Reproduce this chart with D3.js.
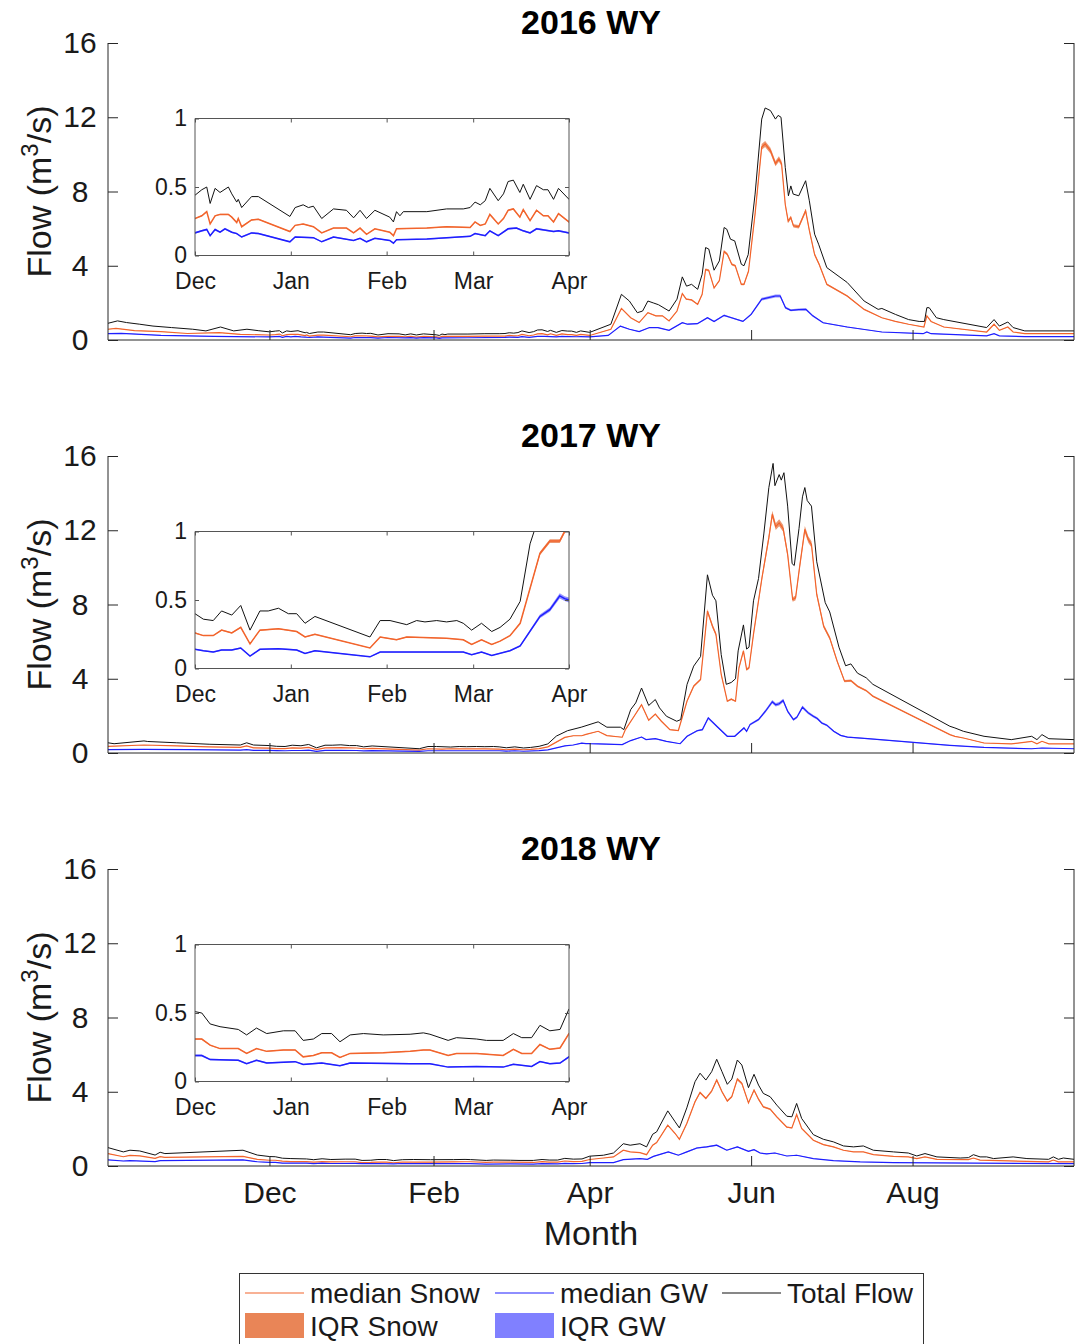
<!DOCTYPE html>
<html>
<head>
<meta charset="utf-8">
<script src="https://cdn.jsdelivr.net/npm/d3@7"></script>
<style>
  html, body { margin: 0; padding: 0; background: #fff; }
  svg { display: block; font-family: "Liberation Sans", Arial, Helvetica, sans-serif; }
</style>
</head>
<body>
<svg id="chart" width="1075" height="1344"></svg>
<script>
// Daily streamflow components by water year, as [day of water year (0 = Oct 1), flow in m3/s]

const total2016 = [[0,0.90],[3.6,1.03],[7,0.94],[12,0.85],[17,0.75],[24,0.67],[32,0.58],[37,0.49],[42.5,0.70],[47.5,0.49],[52.5,0.58],[57,0.50],
  [61,0.44],[63.2,0.48],[64.8,0.50],[65.9,0.38],[67.5,0.49],[69.1,0.46],[71.8,0.50],[72.9,0.45],[74.5,0.39],[75,0.41],[76.1,0.35],[79.3,0.43],[81.5,0.43],[91.7,0.285],[93.4,0.35],[96,0.37],[97.7,0.35],[99.3,0.36],[102,0.27],[105.8,0.34],[110,0.33],[112.3,0.275],[114.4,0.33],[116.5,0.27],[119.2,0.33],[124,0.28],[125.2,0.245],[126.2,0.32],[127.3,0.29],[128.4,0.32],[136,0.32],[142.4,0.34],[147.8,0.34],[150,0.35],[151.6,0.39],[153.3,0.37],[154.9,0.40],[156.4,0.49],[159.1,0.40],[160.8,0.45],[162.3,0.54],[164,0.55],[166.1,0.46],[167.2,0.52],[169.4,0.41],[171.5,0.51],[173.7,0.48],[175.2,0.48],[177,0.41],[178.6,0.49],[182,0.41],
  [190,0.85],[194,2.46],[197,2.1],[200,1.47],[202,1.56],[204,2.1],[206,2.0],[208,1.9],[212,1.56],[215,2.2],[217,3.4],[218.6,2.9],[220.5,3.0],[222.8,2.73],[224.5,3.54],[225.8,4.98],[227,4.9],[229,3.76],[231,4.26],[232.8,6.06],[233.8,5.97],[235.2,5.43],[236.8,5.34],[239.3,4.08],[240.3,4.0],[241.9,4.6],[244.5,7.86],[247,11.9],[248.3,12.5],[250.3,12.36],[252.2,11.9],[253.2,12.1],[254.3,12.0],[255.9,9.3],[257.1,7.77],[258,8.3],[258.9,7.86],[261,7.77],[263.6,8.58],[265,7.5],[267,5.7],[268.5,5.16],[271.6,3.9],[279.3,3.1],[285.7,2.1],[291,1.65],[292.4,1.7],[297.5,1.38],[302.5,1.1],[306.5,1.0],[308.5,1.0],[309.4,1.74],[310.3,1.74],[313,1.2],[315.8,1.1],[332,0.67],[334.8,1.1],[336.8,0.75],[340,0.97],[342,0.67],[346.4,0.49],[365,0.49]];

const snow2016 = [[0,0.58],[3,0.63],[10,0.50],[20,0.45],[30,0.35],[42,0.40],[50,0.30],
  [61,0.27],[63.2,0.29],[64.8,0.32],[65.9,0.23],[67.5,0.29],[69.1,0.30],[71.8,0.30],[72.9,0.28],[74.5,0.24],[75,0.27],[76.1,0.21],[79.3,0.26],[81.5,0.265],[91.7,0.175],[93.4,0.22],[96,0.23],[99.3,0.21],[102,0.165],[105.8,0.20],[110,0.20],[112.3,0.165],[114.4,0.20],[116.5,0.155],[119.2,0.195],[124,0.17],[125.2,0.145],[126.2,0.195],[136,0.20],[142.4,0.21],[150,0.205],[151.6,0.245],[153.3,0.22],[154.9,0.23],[156.4,0.30],[159.1,0.23],[160.8,0.27],[162.3,0.33],[164,0.34],[166.1,0.28],[167.2,0.335],[169.4,0.255],[171.5,0.33],[173.7,0.29],[175.2,0.29],[177,0.245],[178.6,0.305],[182,0.245],
  [190,0.58],[194,1.7],[197.5,1.2],[200.7,0.94],[204,1.47],[207,1.3],[209.5,1.3],[212,1.03],[215,1.56],[217,2.5],[218.5,2.2],[220.5,2.16],[222.8,1.92],[224.5,2.46],[225.8,3.8],[227,3.75],[229,2.8],[231,3.2],[232.8,4.77],[234,4.62],[235.7,4.08],[237,4.0],[239.3,3.0],[240.3,3.0],[242,3.7],[244.5,6.8],[247,10.4],[248.3,10.56],[250.3,10.2],[252.2,9.5],[253.5,9.75],[254.5,9.5],[255.9,7.3],[257,6.4],[258,6.6],[259,6.15],[261,6.1],[263.6,6.96],[265,5.9],[267,4.6],[268.7,4.08],[271.6,3.0],[279.3,2.37],[285.7,1.65],[292.4,1.2],[297.5,1.0],[302.5,0.85],[308.3,0.7],[309.4,1.3],[311,1.0],[315.8,0.7],[332,0.43],[334.8,0.85],[336.8,0.52],[340,0.7],[342,0.43],[346.4,0.34],[365,0.34]];

const gw2016 = [[0,0.34],[5,0.36],[20,0.25],[40,0.20],
  [61,0.165],[63.2,0.18],[64.8,0.19],[65.9,0.145],[67.5,0.19],[69.1,0.17],[70.7,0.195],[72.9,0.17],[74.5,0.16],[76.1,0.135],[79.3,0.165],[81.5,0.16],[91.7,0.10],[93.4,0.135],[99.3,0.13],[102,0.10],[105.8,0.135],[112.3,0.11],[114.4,0.125],[116.5,0.10],[119.2,0.125],[124,0.11],[125.2,0.09],[126.2,0.115],[136,0.12],[150,0.14],[151.6,0.16],[154.9,0.145],[156.4,0.18],[159.1,0.145],[162.3,0.195],[165,0.20],[167.2,0.18],[169.4,0.165],[171.5,0.195],[177,0.175],[178.6,0.18],[182,0.165],
  [189,0.25],[193.6,0.75],[197,0.58],[200.7,0.45],[204.6,0.67],[207.8,0.67],[212,0.52],[217,0.93],[219,0.85],[222.7,0.88],[226.5,1.2],[229,1.0],[232.8,1.33],[234.7,1.24],[239.9,1.0],[243,1.38],[247,2.2],[252.2,2.37],[254,2.37],[256,1.74],[258,1.6],[261,1.64],[263.7,1.65],[266.3,1.3],[270.2,0.93],[279.3,0.7],[292.4,0.43],[308,0.34],[309.4,0.43],[311,0.34],[332,0.22],[334.8,0.34],[336.8,0.22],[346.4,0.18],[365,0.18]];

const total2017 = [[0,0.55],[2.3,0.50],[13.6,0.65],[15,0.62],[26,0.55],[38.5,0.47],[50,0.43],[52.4,0.55],[55,0.43],
  [61,0.40],[63.7,0.36],[66.9,0.35],[69.6,0.42],[72.9,0.39],[75.8,0.46],[78.8,0.28],[82,0.42],[84.7,0.42],[88,0.44],[91.2,0.40],[93.9,0.40],[96.6,0.33],[99.8,0.38],[117.6,0.23],[120.9,0.35],[124.1,0.35],[129.5,0.32],[132.7,0.35],[135.4,0.34],[139.2,0.35],[142.4,0.34],[145.7,0.35],[147.8,0.33],[150.5,0.28],[153.7,0.33],[157,0.27],[159.7,0.30],[162.9,0.36],[166.2,0.49],[169.4,0.91],
  [173.6,1.2],[178.8,1.39],[185.2,1.68],[188.5,1.39],[193.6,1.39],[194.9,1.26],[197.5,2.34],[199.4,2.7],[201.6,3.5],[204.3,2.56],[206.8,2.88],[208.4,2.43],[211,1.98],[214.9,1.71],[216.4,1.8],[218.8,3.7],[221.3,4.68],[223.9,5.2],[226.5,9.6],[228.4,8.5],[229.7,8.2],[231.7,5.3],[233.6,3.7],[235.5,3.8],[237.1,4.0],[238.1,5.5],[240.1,6.9],[241.3,5.6],[242.2,5.7],[243.9,8.2],[245.8,9.4],[247.8,11.8],[249.7,14.3],[251.3,15.6],[252,14.4],[253.6,15.0],[254.4,14.7],[255.4,15.1],[256.8,13.3],[258.5,10.2],[259.3,10.1],[261.1,12.1],[262.4,13.8],[263.3,14.3],[264.2,13.6],[265.8,13.3],[267.8,10.3],[271,8.1],[272.7,7.6],[276.2,5.7],[278.7,4.7],[280.7,4.8],[283.2,4.3],[286.5,4.05],[289,3.7],[318.1,1.44],[320,1.35],[323.2,1.17],[331,0.9],[341.3,0.72],[349,0.9],[351,0.72],[352.9,0.99],[355.5,0.77],[365,0.72]];

const snow2017 = [[0,0.36],[13.6,0.43],[26,0.38],[38,0.33],[50,0.30],[52.4,0.38],[55,0.28],
  [61,0.26],[63.7,0.24],[66.9,0.24],[69.6,0.28],[72.9,0.26],[75.8,0.30],[78.8,0.18],[82,0.28],[88,0.29],[93.9,0.27],[96.6,0.23],[99.8,0.25],[117.6,0.15],[120.9,0.23],[126.2,0.21],[129.5,0.23],[142.4,0.22],[147.8,0.21],[150.5,0.175],[153.7,0.21],[157,0.175],[159.7,0.20],[162.9,0.24],[166.2,0.33],[172.6,0.84],[175.8,0.93],[179,0.93],[180.6,1.0],
  [185.2,1.17],[188.5,0.94],[194.3,0.85],[195.5,1.26],[198.8,1.98],[201.6,2.6],[204.3,1.77],[206.8,2.1],[209.1,1.71],[212.3,1.26],[215.5,1.21],[218.8,2.8],[221.3,3.6],[223.9,3.96],[226.5,7.64],[228.4,6.83],[229.7,6.4],[231.7,4.23],[234,2.79],[235.5,2.9],[237.1,2.79],[238.4,4.59],[240.1,5.5],[241.3,4.5],[242.2,4.59],[243.9,6.4],[247.1,9.44],[249.7,11.6],[251,12.86],[252.3,12.2],[253.6,12.4],[255.1,12.1],[256.8,10.7],[258.7,8.27],[259.8,8.36],[261.3,10.0],[263.3,12.05],[264.6,11.5],[265.8,11.24],[267.8,8.54],[270.4,6.83],[272.7,6.2],[275.5,4.95],[278.3,3.87],[280.7,3.9],[283.2,3.6],[286.5,3.36],[289,3.06],[318.1,0.99],[320,0.9],[323.2,0.81],[331,0.54],[341.3,0.49],[349,0.63],[351,0.49],[352.9,0.63],[355.5,0.49],[365,0.49]];

const gw2017 = [[0,0.18],[13.6,0.20],[30,0.18],[50,0.15],[52.4,0.18],[55,0.14],
  [61,0.14],[63.7,0.13],[66.9,0.12],[69.6,0.135],[72.9,0.135],[75.8,0.15],[78.8,0.09],[82,0.14],[88,0.145],[93.9,0.135],[96.6,0.11],[99.8,0.13],[117.6,0.085],[120.9,0.12],[139.2,0.12],[147.8,0.12],[150.5,0.10],[153.7,0.12],[157,0.095],[162.9,0.13],[166.2,0.165],[172.6,0.38],[175.8,0.43],[179,0.53],[180.6,0.51],[182,0.50],
  [185.2,0.49],[194.3,0.45],[197.5,0.67],[201.6,0.86],[203.3,0.72],[206.8,0.77],[211,0.63],[216.2,0.5],[218.8,0.9],[222.6,1.2],[224.6,1.26],[226.8,1.89],[230.4,1.39],[234,0.9],[236.8,0.9],[240.3,1.35],[241.3,1.17],[242.6,1.53],[245.8,1.8],[248.4,2.25],[251,2.76],[252.3,2.6],[253.6,2.65],[255.1,2.83],[256.8,2.25],[259,1.8],[260.3,1.93],[262.4,2.47],[264.6,2.16],[266.5,1.98],[268,1.86],[269.7,1.62],[271.6,1.5],[274.2,1.17],[276.8,0.95],[279.4,0.86],[287.1,0.77],[318.1,0.41],[331,0.3],[349,0.23],[352.9,0.27],[365,0.23]];

const total2018 = [[0,0.99],[5.8,0.76],[8.3,0.85],[12,0.81],[17.8,0.59],[19.7,0.74],[21.5,0.67],[51,0.85],[56.4,0.59],
  [61,0.51],[63.2,0.50],[65.9,0.42],[69.1,0.40],[75,0.38],[77.7,0.34],[80.9,0.39],[84.2,0.35],[89.6,0.37],[93.4,0.37],[96,0.30],[99.3,0.31],[102,0.35],[105.2,0.35],[107.9,0.29],[111.2,0.34],[115.5,0.35],[121.9,0.34],[130.6,0.345],[134.9,0.355],[137,0.345],[142.9,0.30],[145.6,0.32],[152.1,0.31],[155.3,0.30],[160.7,0.30],[164,0.35],[166.7,0.32],[169.9,0.32],[172.6,0.41],[175.8,0.37],[179.1,0.38],[182,0.53],
  [187.2,0.58],[191,0.70],[194.7,1.2],[197.3,1.12],[201,1.2],[203.5,1.03],[205.8,1.71],[207.3,1.84],[211.5,2.97],[214.3,2.38],[215.9,2.05],[218.7,3.13],[221.8,4.54],[223.7,5.0],[225.9,4.63],[228.1,5.08],[230,5.75],[232,5.08],[234,4.4],[235.7,4.68],[237.8,5.71],[239.5,5.44],[242,4.22],[244.1,4.94],[245.8,4.36],[247.6,3.91],[250.2,3.73],[252.7,3.28],[256.5,2.68],[258.4,2.65],[260.2,3.37],[262.1,2.56],[266.5,1.69],[270.3,1.44],[274.1,1.3],[277.9,1.08],[281.7,1.03],[285.4,1.08],[289.2,0.85],[296.8,0.76],[302.4,0.70],[305.6,0.54],[308.7,0.67],[313.2,0.49],[322,0.43],[325.1,0.45],[327,0.61],[329.5,0.49],[332,0.49],[334.6,0.40],[342,0.49],[347.2,0.40],[355.4,0.36],[357.2,0.49],[359.1,0.36],[361,0.43],[365,0.36]];

const snow2018 = [[0,0.67],[5.8,0.50],[8.3,0.57],[12,0.55],[17.8,0.41],[19.7,0.50],[21.5,0.47],[51,0.52],[56.4,0.36],
  [61,0.31],[63.2,0.31],[65.9,0.265],[69.1,0.24],[75,0.24],[77.7,0.205],[80.9,0.24],[84.2,0.22],[89.6,0.23],[93.4,0.23],[96,0.18],[99.3,0.19],[102,0.21],[105.2,0.21],[107.9,0.175],[111.2,0.205],[121.9,0.21],[130.6,0.22],[134.9,0.23],[137,0.23],[142.9,0.19],[145.6,0.205],[152.1,0.205],[160.7,0.19],[164,0.235],[166.7,0.205],[169.9,0.205],[172.6,0.27],[175.8,0.235],[179.1,0.245],[182,0.35],
  [187.2,0.43],[191,0.49],[194.7,0.85],[197.3,0.76],[201,0.72],[203.5,0.61],[205.8,1.12],[207.3,1.26],[211.5,2.2],[214.3,1.75],[215.9,1.44],[218.7,2.29],[221.8,3.46],[223.7,3.96],[225.9,3.64],[228.1,4.04],[230,4.63],[232,4.0],[234,3.5],[235.7,3.73],[237.8,4.68],[239.5,4.45],[242,3.4],[244.1,4.09],[245.8,3.6],[247.6,3.19],[250.2,3.06],[252.7,2.65],[256.5,2.09],[258.4,2.05],[260.2,2.77],[262.1,2.02],[266.5,1.39],[270.3,1.15],[274.1,1.03],[277.9,0.85],[281.7,0.76],[285.4,0.76],[289.2,0.61],[296.8,0.52],[302.4,0.49],[305.6,0.40],[308.7,0.49],[313.2,0.36],[325.1,0.34],[327,0.43],[329.5,0.32],[347.2,0.25],[355.4,0.22],[357.2,0.32],[359.1,0.22],[365,0.22]];

const gw2018 = [[0,0.33],[5.8,0.27],[8.3,0.29],[17.8,0.24],[19.7,0.29],[51,0.33],[56.4,0.23],
  [61,0.19],[63.2,0.19],[65.9,0.16],[75,0.155],[77.7,0.13],[80.9,0.155],[84.2,0.135],[93.4,0.145],[96,0.125],[102,0.135],[107.9,0.115],[111.2,0.135],[130.6,0.13],[137,0.13],[142.9,0.105],[152.1,0.11],[160.7,0.105],[164,0.125],[169.9,0.11],[172.6,0.145],[175.8,0.13],[179.1,0.135],[182,0.18],
  [191,0.18],[194.7,0.34],[201,0.40],[203.8,0.36],[206.1,0.52],[211.7,0.76],[215.5,0.58],[218.7,0.76],[222.5,0.97],[226.2,1.03],[230,1.12],[233.8,0.85],[237.8,1.03],[242,0.79],[244.1,0.88],[246.4,0.70],[248.9,0.65],[252,0.70],[256.5,0.54],[260.2,0.58],[266.5,0.40],[274.1,0.29],[284.2,0.22],[296.8,0.18],[365,0.13]];

// Interquartile spread of the ensemble, as a fraction of the median
const iqrSnowRel = [0.015, 0.015, 0.015];
const iqrGwRel = [0.035, 0.035, 0.035];

const yearLabels = ["2016 WY", "2017 WY", "2018 WY"];
const monthTicks = [61, 123, 182, 243, 304];
const monthLabels = ["Dec", "Feb", "Apr", "Jun", "Aug"];
const insetTicks = [61, 92, 123, 151, 182];
const insetLabels = ["Dec", "Jan", "Feb", "Mar", "Apr"];
const flowTicks = [0, 4, 8, 12, 16];
const insetFlowTicks = [0, 0.5, 1];
const legendLabels = ["median Snow", "median GW", "Total Flow", "IQR Snow", "IQR GW"];

// ---- drawing ----
const years = [
  { label: yearLabels[0], total: total2016, snow: snow2016, gw: gw2016, sRel: iqrSnowRel[0], gRel: iqrGwRel[0] },
  { label: yearLabels[1], total: total2017, snow: snow2017, gw: gw2017, sRel: iqrSnowRel[1], gRel: iqrGwRel[1] },
  { label: yearLabels[2], total: total2018, snow: snow2018, gw: gw2018, sRel: iqrSnowRel[2], gRel: iqrGwRel[2] }
];

const COL = {
  snow: "#F2642C", snowBand: "#E98557",
  gw: "#1F1FFF", gwBand: "#8080FF",
  total: "#111111", axis: "#262626", text: "#1a1a1a"
};
const FONT = '"Liberation Sans", Arial, sans-serif';

const svg = d3.select("#chart");
const panelTops = [43, 456, 869];
const panelH = 297;
const x = d3.scaleLinear().domain([0, 365]).range([108, 1074]);
const xIn = d3.scaleLinear().domain([61, 182]).range([195, 569]);

function drawSeries(g, d, xs, ys, w) {
  const band = (rel) => d3.area().x(p => xs(p[0])).y0(p => ys(p[1] * (1 - rel))).y1(p => ys(p[1] * (1 + rel)));
  const line = d3.line().x(p => xs(p[0])).y(p => ys(p[1]));
  g.append("path").attr("d", band(d.sRel)(d.snow)).attr("fill", COL.snowBand).attr("opacity", 0.85);
  g.append("path").attr("d", band(d.gRel)(d.gw)).attr("fill", COL.gwBand).attr("opacity", 0.85);
  g.append("path").attr("d", line(d.snow)).attr("fill", "none").attr("stroke", COL.snow).attr("stroke-width", w);
  g.append("path").attr("d", line(d.gw)).attr("fill", "none").attr("stroke", COL.gw).attr("stroke-width", w);
  g.append("path").attr("d", line(d.total)).attr("fill", "none").attr("stroke", COL.total).attr("stroke-width", 1);
}

years.forEach((d, i) => {
  const top = panelTops[i];
  const bottom = top + panelH;
  const y = d3.scaleLinear().domain([0, 16]).range([bottom, top]);
  const g = svg.append("g");

  // clip for main plot area
  svg.append("clipPath").attr("id", "clipMain" + i)
    .append("rect").attr("x", x(0)).attr("y", top).attr("width", x(365) - x(0)).attr("height", panelH);

  const plot = g.append("g").attr("clip-path", `url(#clipMain${i})`);
  drawSeries(plot, d, x, y, 1.2);

  // axes: left, right, bottom (ticks pointing inward)
  const left = d3.axisLeft(y).tickValues(flowTicks).tickSize(-10).tickPadding(28).tickFormat(d3.format("d"));
  const right = d3.axisRight(y).tickValues(flowTicks).tickSize(-10).tickFormat("");
  const bot = d3.axisBottom(x).tickValues(monthTicks).tickSize(-10).tickPadding(16)
    .tickFormat((v, k) => i === 2 ? monthLabels[k] : "");

  const ga = g.append("g").attr("transform", `translate(${x(0)},0)`).call(left);
  const gr = g.append("g").attr("transform", `translate(${x(365)},0)`).call(right);
  const gb = g.append("g").attr("transform", `translate(0,${bottom})`).call(bot);
  [ga, gr, gb].forEach(s => {
    s.select(".domain").attr("stroke", COL.axis).attr("stroke-width", 1);
    s.selectAll(".tick line").attr("stroke", COL.axis).attr("stroke-width", 1);
    s.selectAll("text").attr("fill", COL.text).attr("font-size", 30).attr("font-family", FONT);
  });
  // y tick labels are centred in their column
  ga.selectAll(".tick text").attr("text-anchor", "middle").attr("x", 80 - x(0));
  ga.select(".domain").attr("d", `M0,${top}V${bottom}`);
  gr.select(".domain").attr("d", `M0,${top}V${bottom}`);
  gb.select(".domain").attr("d", `M${x(0)},0H${x(365)}`);
  gb.selectAll("text").attr("dy", "0.71em");

  // y-axis label
  const yl = g.append("text")
    .attr("transform", `translate(51,${(top + bottom) / 2}) rotate(-90)`)
    .attr("text-anchor", "middle").attr("font-size", 34).attr("fill", COL.text);
  yl.append("tspan").text("Flow (m");
  yl.append("tspan").text("3").attr("font-size", 24).attr("dy", -13);
  yl.append("tspan").text("/s)").attr("dy", 13);

  // title
  g.append("text").attr("x", 591).attr("y", top - 9).attr("text-anchor", "middle")
    .attr("font-size", 34).attr("font-weight", "bold").attr("fill", "#000").text(d.label);

  // ---- inset: Dec to Apr, 0 to 1 ----
  const iTop = top + 75.5, iBot = top + 212.5;
  const yIn = d3.scaleLinear().domain([0, 1]).range([iBot, iTop]);
  g.append("rect").attr("x", xIn(61)).attr("y", iTop).attr("width", xIn(182) - xIn(61)).attr("height", iBot - iTop)
    .attr("fill", "#fff");
  svg.append("clipPath").attr("id", "clipIn" + i)
    .append("rect").attr("x", xIn(61)).attr("y", iTop).attr("width", xIn(182) - xIn(61)).attr("height", iBot - iTop);
  const inset = g.append("g").attr("clip-path", `url(#clipIn${i})`);
  drawSeries(inset, d, xIn, yIn, 1.5);

  const iL = d3.axisLeft(yIn).tickValues(insetFlowTicks).tickSize(-4).tickPadding(8).tickFormat(v => v === 0.5 ? "0.5" : d3.format("d")(v));
  const iR = d3.axisRight(yIn).tickValues(insetFlowTicks).tickSize(-4).tickFormat("");
  const iB = d3.axisBottom(xIn).tickValues(insetTicks).tickSize(-4).tickPadding(17).tickFormat((v, k) => insetLabels[k]);
  const iT = d3.axisTop(xIn).tickValues(insetTicks).tickSize(-4).tickFormat("");
  const gl = g.append("g").attr("transform", `translate(${xIn(61)},0)`).call(iL);
  const grr = g.append("g").attr("transform", `translate(${xIn(182)},0)`).call(iR);
  const gbb = g.append("g").attr("transform", `translate(0,${iBot})`).call(iB);
  const gtt = g.append("g").attr("transform", `translate(0,${iTop})`).call(iT);
  [gl, grr, gbb, gtt].forEach(s => {
    s.select(".domain").attr("stroke", "#555").attr("stroke-width", 1);
    s.selectAll(".tick line").attr("stroke", "#555").attr("stroke-width", 1);
    s.selectAll("text").attr("fill", COL.text).attr("font-size", 23).attr("font-family", FONT);
  });
  gl.select(".domain").attr("d", `M0,${iTop}V${iBot}`);
  grr.select(".domain").attr("d", `M0,${iTop}V${iBot}`);
  gbb.select(".domain").attr("d", `M${xIn(61)},0H${xIn(182)}`);
  gtt.select(".domain").attr("d", `M${xIn(61)},0H${xIn(182)}`);
  gbb.selectAll("text").attr("dy", "0.71em");
});

// x-axis title
svg.append("text").attr("x", 591).attr("y", 1245).attr("text-anchor", "middle")
  .attr("font-size", 34).attr("fill", COL.text).text("Month");

// ---- legend ----
const lg = svg.append("g");
lg.append("rect").attr("x", 239.5).attr("y", 1273.5).attr("width", 684).attr("height", 90)
  .attr("fill", "#fff").attr("stroke", "#333").attr("stroke-width", 1);
const legendItems = [
  { type: "line", color: COL.snow, x: 245, y: 1293, label: legendLabels[0] },
  { type: "line", color: COL.gw, x: 495, y: 1293, label: legendLabels[1] },
  { type: "line", color: COL.total, x: 722, y: 1293, label: legendLabels[2] },
  { type: "patch", color: COL.snowBand, x: 245, y: 1326, label: legendLabels[3] },
  { type: "patch", color: COL.gwBand, x: 495, y: 1326, label: legendLabels[4] }
];
legendItems.forEach(it => {
  if (it.type === "line") {
    lg.append("line").attr("x1", it.x).attr("x2", it.x + 59).attr("y1", it.y).attr("y2", it.y)
      .attr("stroke", it.color).attr("stroke-width", 1.2);
  } else {
    lg.append("rect").attr("x", it.x).attr("y", it.y - 13).attr("width", 59).attr("height", 25)
      .attr("fill", it.color);
  }
  lg.append("text").attr("x", it.x + 65).attr("y", it.y).attr("dy", "0.35em")
    .attr("font-size", 28).attr("fill", COL.text).text(it.label);
});
</script>
</body>
</html>
